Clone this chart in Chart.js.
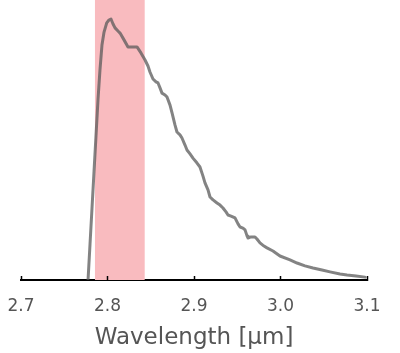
<!DOCTYPE html>
<html>
<head>
<meta charset="utf-8">
<script src="https://cdn.jsdelivr.net/npm/chart.js@4/dist/chart.umd.min.js"></script>
<style>
html,body{margin:0;padding:0;background:#fff;}
#wrap{width:400px;height:353px;}
</style>
</head>
<body>
<div id="wrap"><canvas id="c" width="400" height="353"></canvas></div>
<script>
const wavelength = [2.7775,2.7798,2.7821,2.7844,2.7867,2.789,2.7913,2.7936,2.796,2.7991,2.8017,2.804,2.8064,2.8087,2.8121,2.8145,2.8191,2.8237,2.8283,2.8341,2.8387,2.8434,2.8468,2.8491,2.8526,2.8561,2.8584,2.8607,2.863,2.8665,2.8688,2.8723,2.8746,2.878,2.8803,2.8838,2.8861,2.8896,2.8919,2.8954,2.8988,2.9035,2.9069,2.9104,2.9127,2.9162,2.9185,2.922,2.9266,2.9301,2.9335,2.937,2.9393,2.9428,2.9474,2.9509,2.9532,2.9566,2.959,2.9613,2.9624,2.9659,2.9705,2.9728,2.9763,2.9809,2.9844,2.9913,2.9994,3.011,3.0191,3.0283,3.0376,3.048,3.0572,3.0688,3.0769,3.0873,3.0977];
const intensity = [0,0.138,0.276,0.414,0.552,0.690,0.805,0.900,0.950,0.985,0.996,1.0,0.981,0.966,0.954,0.946,0.920,0.893,0.893,0.893,0.870,0.843,0.820,0.797,0.770,0.759,0.755,0.736,0.716,0.709,0.701,0.670,0.640,0.594,0.567,0.556,0.544,0.517,0.498,0.483,0.467,0.448,0.433,0.398,0.372,0.345,0.318,0.307,0.295,0.287,0.276,0.261,0.249,0.245,0.238,0.215,0.203,0.199,0.192,0.169,0.161,0.165,0.165,0.157,0.142,0.130,0.123,0.111,0.092,0.077,0.065,0.054,0.046,0.038,0.031,0.023,0.019,0.015,0.011];
const xTickValues = [2.7, 2.8, 2.9, 3.0, 3.1];
const band = [2.7855, 2.843];
const xTitle = 'Wavelength [μm]';

const FONT = '"DejaVu Sans", sans-serif';

const bandPlugin = {
  id: 'band',
  beforeDatasetsDraw(chart) {
    const {ctx, chartArea, scales} = chart;
    const x0 = scales.x.getPixelForValue(band[0]);
    const x1 = scales.x.getPixelForValue(band[1]);
    ctx.save();
    ctx.fillStyle = '#f9bbbf';
    ctx.fillRect(x0, chartArea.top, x1 - x0, chartArea.bottom - chartArea.top);
    ctx.restore();
  }
};
const tickPlugin = {
  id: 'upticks',
  afterDraw(chart) {
    const {ctx, scales} = chart;
    const s = scales.x;
    const y = s.top;
    ctx.save();
    ctx.strokeStyle = '#000';
    ctx.lineWidth = 1.5;
    xTickValues.forEach(v => {
      const px = Math.round(s.getPixelForValue(v)) + 0.5;
      ctx.beginPath();
      ctx.moveTo(px, y - 4);
      ctx.lineTo(px, y + 1);
      ctx.stroke();
    });
    ctx.restore();
  }
};

new Chart(document.getElementById('c'), {
  type: 'line',
  data: {
    datasets: [{
      data: wavelength.map((w, i) => ({x: w, y: intensity[i]})),
      borderColor: 'rgba(90,90,90,0.75)',
      borderWidth: 3,
      pointRadius: 0,
      tension: 0,
      fill: false,
      borderJoinStyle: 'round',
      borderCapStyle: 'round'
    }]
  },
  options: {
    responsive: false,
    animation: false,
    layout: {padding: {left: 21, right: 33, top: 0, bottom: 1}},
    plugins: {legend: {display: false}, tooltip: {enabled: false}},
    scales: {
      x: {
        type: 'linear',
        min: 2.7, max: 3.1,
        afterBuildTicks: s => { s.ticks = xTickValues.map(v => ({value: v})); },
        afterFit: s => { s.height = 72; s.paddingLeft = 0; s.paddingRight = 0; },
        grid: {display: false, drawTicks: false},
        border: {display: true, color: '#000', width: 2},
        ticks: {
          color: '#555',
          font: {family: FONT, size: 17},
          padding: 16,
          maxRotation: 0,
          autoSkip: false,
          callback: v => Number(v).toFixed(1)
        },
        title: {
          display: true,
          text: xTitle,
          color: '#555',
          font: {family: FONT, size: 23},
          padding: {top: 0, bottom: 0}
        }
      },
      y: {
        display: false,
        min: 0, max: 1.0728
      }
    }
  },
  plugins: [bandPlugin, tickPlugin]
});
</script>
</body>
</html>
